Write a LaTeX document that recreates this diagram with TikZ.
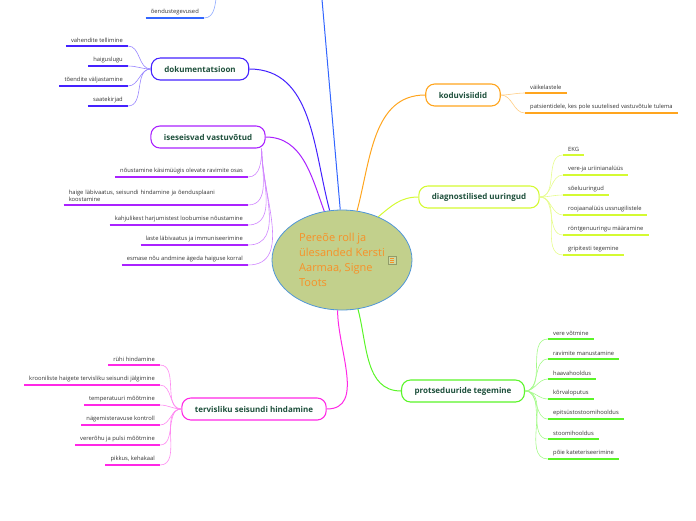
\documentclass[tikz,border=0pt]{standalone}
\usepackage{fontspec}
\setmainfont{Open Sans}
\usepackage{tikz}
\usetikzlibrary{shapes.geometric, positioning, calc}
\definecolor{CoreFill}{RGB}{194, 208, 140}
\definecolor{CoreLine}{RGB}{80, 150, 215}
\definecolor{CoreText}{RGB}{247, 145, 40}
\definecolor{NodeText}{RGB}{30, 80, 60}
\definecolor{LeafText}{RGB}{50, 50, 50}
\definecolor{BrTop}{RGB}{51, 102, 255}
\definecolor{BrDok}{RGB}{68, 34, 255}
\definecolor{BrIsv}{RGB}{170, 34, 255}
\definecolor{BrKod}{RGB}{255, 165, 30}
\definecolor{BrDia}{RGB}{212, 250, 50}
\definecolor{BrPro}{RGB}{90, 245, 40}
\definecolor{BrTer}{RGB}{255, 40, 230}

\begin{document}
\begin{tikzpicture}[x=1pt, y=-1pt,
  core/.style={ellipse, draw=CoreLine, line width=0.8pt, fill=CoreFill,
    minimum width=140pt, minimum height=100pt,
    align=left, text=CoreText, font=\fontsize{11}{15}\selectfont},
  topic/.style={draw=#1, line width=1.1pt, fill=white, rounded corners=9pt,
    minimum height=22pt, inner xsep=13pt,
    text=NodeText, font=\fontsize{8}{10}\selectfont\bfseries},
  leaf/.style={inner xsep=5pt, inner ysep=3pt, text=LeafText,
    font=\fontsize{5.8}{7.5}\selectfont,
    append after command={(\tikzlastnode.south west) edge[draw=#1, line width=2pt] (\tikzlastnode.south east)}},
  branch/.style={draw=#1, line width=1pt},
  twig/.style={draw=#1!55, line width=0.6pt}
]
\useasboundingbox (0,0) rectangle (696,520);

\node[core] (core) at (342,260) {Pereõe roll ja\\ülesanded Kersti\\Aarmaa, Signe\\Toots};
\node[draw=CoreFill!75!black, line width=0.3pt, fill=CoreFill!80!white, minimum size=8pt, inner sep=0pt] (note) at (392,260) {};
\foreach \d in {-1.8,0,1.8}
  \draw[CoreText, line width=0.4pt] ($(note.center)+(-2,\d)$) -- ++(4,0);

\node[topic=BrDok] (dok) at (200,69)  {dokumentatsioon};
\node[topic=BrIsv] (isv) at (208,137) {iseseisvad vastuvõtud};
\node[topic=BrKod] (kod) at (463,95)  {koduvisiidid};
\node[topic=BrDia] (dia) at (479,197) {diagnostilised uuringud};
\node[topic=BrPro] (pro) at (463,391) {protseduuride tegemine};
\node[topic=BrTer] (ter) at (254,409) {tervisliku seisundi hindamine};
\coordinate (up)  at (321,-12);
\coordinate (up2) at (217,-8);

\node[leaf=BrTop, anchor=south east] (o1) at (204,18) {õendustegevused};

\node[leaf=BrDok, anchor=south east] (d1) at (128,46)  {vahendite tellimine};
\node[leaf=BrDok, anchor=south east] (d2) at (128,66)  {haiguslugu};
\node[leaf=BrDok, anchor=south east] (d3) at (128,86)  {tõendite väljastamine};
\node[leaf=BrDok, anchor=south east] (d4) at (128,106) {saatekirjad};

\node[leaf=BrIsv, anchor=south east] (i1) at (248,177) {nõustamine käsimüügis olevate ravimite osas};
\node[leaf=BrIsv, anchor=south east, text width=174pt, align=left] (i2) at (248,205) {haige läbivaatus, seisundi hindamine ja õendusplaani\\koostamine};
\node[leaf=BrIsv, anchor=south east] (i3) at (248,225) {kahjulikest harjumistest loobumise nõustamine};
\node[leaf=BrIsv, anchor=south east] (i4) at (248,245) {laste läbivaatus ja immuniseerimine};
\node[leaf=BrIsv, anchor=south east] (i5) at (248,265) {esmase nõu andmine ägeda haiguse korral};

\node[leaf=BrKod, anchor=south west] (k1) at (525,93)  {väikelastele};
\node[leaf=BrKod, anchor=south west] (k2) at (525,113) {patsientidele, kes pole suutelised vastuvõtule tulema};

\node[leaf=BrDia, anchor=south west] (g1) at (563,155) {EKG};
\node[leaf=BrDia, anchor=south west] (g2) at (563,175) {vere-ja uriinianalüüs};
\node[leaf=BrDia, anchor=south west] (g3) at (563,195) {sõeluuringud};
\node[leaf=BrDia, anchor=south west] (g4) at (563,215) {roojaanalüüs ussnugilistele};
\node[leaf=BrDia, anchor=south west] (g5) at (563,235) {röntgenuuringu määramine};
\node[leaf=BrDia, anchor=south west] (g6) at (563,255) {gripitesti tegemine};

\node[leaf=BrPro, anchor=south west] (p1) at (548,339) {vere võtmine};
\node[leaf=BrPro, anchor=south west] (p2) at (548,359) {ravimite manustamine};
\node[leaf=BrPro, anchor=south west] (p3) at (548,379) {haavahooldus};
\node[leaf=BrPro, anchor=south west] (p4) at (548,399) {kõrvaloputus};
\node[leaf=BrPro, anchor=south west] (p5) at (548,419) {epitsüstostoomihooldus};
\node[leaf=BrPro, anchor=south west] (p6) at (548,439) {stoomihooldus};
\node[leaf=BrPro, anchor=south west] (p7) at (548,459) {põie kateteriseerimine};

\node[leaf=BrTer, anchor=south east] (t1) at (160,365) {rühi hindamine};
\node[leaf=BrTer, anchor=south east] (t2) at (160,385) {krooniliste haigete tervisliku seisundi jälgimine};
\node[leaf=BrTer, anchor=south east] (t3) at (160,405) {temperatuuri mõõtmine};
\node[leaf=BrTer, anchor=south east] (t4) at (160,425) {nägemisteravuse kontroll};
\node[leaf=BrTer, anchor=south east] (t5) at (160,445) {vererõhu ja pulsi mõõtmine};
\node[leaf=BrTer, anchor=south east] (t6) at (160,465) {pikkus, kehakaal};

\draw[branch=BrTop] (core.92) to[out=95,in=-85] (up);
\draw[branch=BrDok] (core.104) to[out=105,in=0] (dok.east);
\draw[branch=BrIsv] (core.110) to[out=110,in=0] (isv.east);
\draw[branch=BrKod] (core.73) to[out=75,in=180] (kod.west);
\draw[branch=BrDia] (core.50) to[out=40,in=180] (dia.west);
\draw[branch=BrPro] (core.-72) to[out=-75,in=180] (pro.west);
\draw[branch=BrTer] (core.-95) to[out=-90,in=0] (ter.east);

\draw[twig=BrTop] (o1.south east) to[out=0,in=-100] (up2);
\foreach \n in {d1,d2,d3,d4}
  \draw[twig=BrDok] (dok.west) to[out=180,in=0] (\n.south east);
\foreach \n in {i1,i2,i3,i4,i5}
  \draw[twig=BrIsv] ([xshift=-4pt]isv.south east) to[out=-90,in=0] (\n.south east);
\foreach \n in {k1,k2}
  \draw[twig=BrKod] (kod.east) to[out=0,in=180] (\n.south west);
\foreach \n in {g1,g2,g3,g4,g5,g6}
  \draw[twig=BrDia] (dia.east) to[out=0,in=180] (\n.south west);
\foreach \n in {p1,p2,p3,p4,p5,p6,p7}
  \draw[twig=BrPro] (pro.east) to[out=0,in=180] (\n.south west);
\foreach \n in {t1,t2,t3,t4,t5,t6}
  \draw[twig=BrTer] (ter.west) to[out=180,in=0] (\n.south east);
\end{tikzpicture}
\end{document}
